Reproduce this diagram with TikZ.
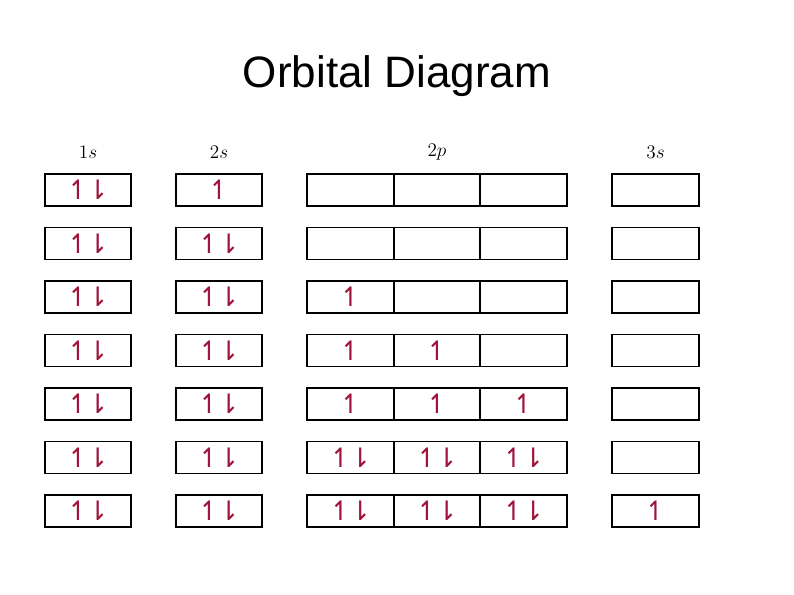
\documentclass[tikz,border=0pt]{standalone}
\usepackage{fontspec}
\setmainfont{Liberation Sans}
\newfontfamily\arrowfont{DejaVu Sans}
\usepackage{tikz}

\definecolor{spincol}{RGB}{160,20,60}
\newcommand{\spinup}{{\arrowfont\char"21BF}}
\newcommand{\spinpair}{{\arrowfont\char"21BF\kern-2pt\char"21C2}}
\newcommand{\orb}[1]{\ifcase#1\or\spinup\or\spinpair\fi}

\begin{document}
\begin{tikzpicture}[x=0.75pt,y=-0.75pt]

\tikzset{orbital/.style = {shape=rectangle,draw,line width=1.2pt,inner sep=0pt,
  minimum width=64.9pt,minimum height=24pt,text=spincol,font=\fontsize{20}{20}\selectfont}}
\tikzset{sublevel/.style = {font=\fontsize{14}{14}\selectfont}}

\useasboundingbox (0,0) rectangle (794,595);

% title
\node[font=\fontsize{33}{33}\selectfont] (title) at (397,76) {Orbital Diagram};

% labels
\node[sublevel] (l1s) at (88,152) {$1s$};
\node[sublevel] (l2s) at (219,152) {$2s$};
\node[sublevel] (l2p) at (437,152) {$2p$};
\node[sublevel] (l3s) at (655.5,152) {$3s$};

% boxes
\foreach \r/\a/\b/\c/\d/\e/\f in {1/2/1/0/0/0/0, 2/2/2/0/0/0/0, 3/2/2/1/0/0/0,
    4/2/2/1/1/0/0, 5/2/2/1/1/1/0, 6/2/2/2/2/2/0, 7/2/2/2/2/2/1}{
  \pgfmathsetmacro{\yy}{190+53.5*(\r-1)}
  \node[orbital] (s1-\r) at (88,\yy) {\orb{\a}};
  \node[orbital] (s2-\r) at (219,\yy) {\orb{\b}};
  \node[orbital] (px-\r) at (350.5,\yy) {\orb{\c}};
  \node[orbital] (py-\r) at (437,\yy) {\orb{\d}};
  \node[orbital] (pz-\r) at (523.5,\yy) {\orb{\e}};
  \node[orbital] (s3-\r) at (655.5,\yy) {\orb{\f}};
}

\end{tikzpicture}
\end{document}
